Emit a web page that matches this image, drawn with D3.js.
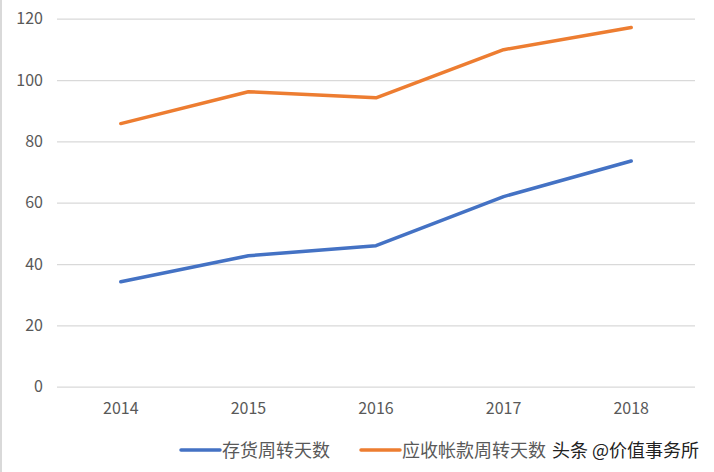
<!DOCTYPE html>
<html>
<head>
<meta charset="utf-8">
<script src="https://cdn.jsdelivr.net/npm/d3@7"></script>
<style>
    body { margin: 0; background: #fff; }
    text { font-family: "Noto Sans CJK SC", "Noto Sans", sans-serif; }
</style>
</head>
<body>
<div id="chart"></div>
<script>
var years = ["2014", "2015", "2016", "2017", "2018"];
var inventoryDays = [34.2, 42.7, 46.0, 62.0, 73.6];
var receivableDays = [85.8, 96.2, 94.2, 109.9, 117.1];
var seriesNames = ["存货周转天数", "应收帐款周转天数"];
var yTicks = [0, 20, 40, 60, 80, 100, 120];

function init() {
    var w = 714;
    var h = 472;

    var svg = d3.select("#chart")
        .append("svg")
        .attr("width", w)
        .attr("height", h);

    // light frame on the left edge
    svg.append("rect")
        .attr("x", 0)
        .attr("y", 0)
        .attr("width", 2)
        .attr("height", h)
        .attr("fill", "#d9d9d9");

    var xScale = d3.scaleBand()
        .domain(years)
        .range([57, 695])
        .padding(0);

    var yScale = d3.scaleLinear()
        .domain([0, 120])
        .range([386.7, 18.7]);

    // gridlines + y labels
    svg.append("g")
        .attr("transform", "translate(57,0)")
        .call(d3.axisLeft(yScale)
            .tickValues(yTicks)
            .tickSize(-(695 - 57))
            .tickPadding(14)
        )
        .call(function (g) {
            g.select(".domain").remove();
            g.selectAll("line").attr("stroke", "#d9d9d9").attr("stroke-width", 1.3);
            g.selectAll("text")
                .attr("fill", "#595959")
                .style("font-size", "16px");
        });

    // x labels
    svg.append("g")
        .attr("transform", "translate(0,386.7)")
        .call(d3.axisBottom(xScale).tickSize(0).tickPadding(16))
        .call(function (g) {
            g.select(".domain").remove();
            g.selectAll("text")
                .attr("fill", "#595959")
                .style("font-size", "16px");
        });

    var line = d3.line()
        .x(function (d, i) { return xScale(years[i]) + xScale.bandwidth() / 2; })
        .y(function (d) { return yScale(d); });

    var colors = ["#4472C4", "#ED7D31"];
    [inventoryDays, receivableDays].forEach(function (data, k) {
        svg.append("path")
            .datum(data)
            .attr("d", line)
            .attr("fill", "none")
            .attr("stroke", colors[k])
            .attr("stroke-width", 3.5)
            .attr("stroke-linecap", "round")
            .attr("stroke-linejoin", "round");
    });

    // legend
    var legendX = [181, 361];
    seriesNames.forEach(function (name, k) {
        svg.append("line")
            .attr("x1", legendX[k])
            .attr("x2", legendX[k] + 39)
            .attr("y1", 450)
            .attr("y2", 450)
            .attr("stroke", colors[k])
            .attr("stroke-width", 3.5)
            .attr("stroke-linecap", "round");
        svg.append("text")
            .attr("x", legendX[k] + 41)
            .attr("y", 456.5)
            .attr("fill", "#595959")
            .style("font-size", "18px")
            .text(name);
    });

    // watermark
    svg.append("text")
        .attr("x", 552)
        .attr("y", 456.5)
        .attr("fill", "#222")
        .attr("stroke", "#fff")
        .attr("stroke-width", 2)
        .attr("paint-order", "stroke")
        .style("font-size", "18px")
        .text("头条 @价值事务所");
}

window.onload = init;
</script>
</body>
</html>
